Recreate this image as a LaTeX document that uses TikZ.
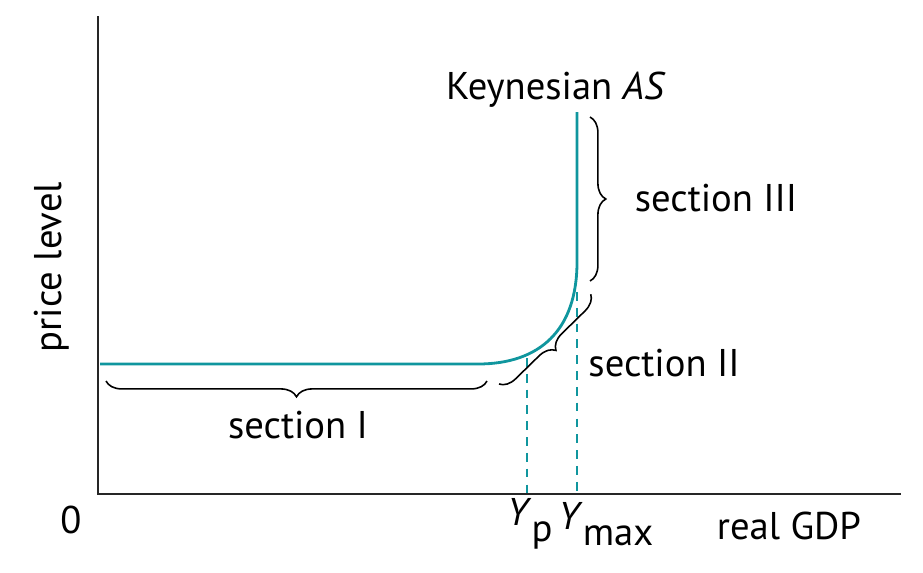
\documentclass[tikz,border=0pt]{standalone}
\usepackage{fontspec}
\setmainfont{PT Sans}
\usetikzlibrary{decorations.pathreplacing}
\definecolor{asteal}{RGB}{16,150,158}
\newcommand{\sub}[1]{\raisebox{-0.4em}{#1}}
\begin{document}
\begin{tikzpicture}
[x=0.02cm,y=-0.02cm,font=\fontsize{22}{26}\selectfont,
every node/.style={inner sep=0pt},
axis/.style={line width=1.4pt,black!85},
curve/.style={line width=1.6pt,asteal},
guide/.style={line width=0.9pt,asteal,dash pattern=on 5pt off 4pt},
bracestyle/.style={line width=0.9pt,decorate,decoration={brace,amplitude=9pt}}]
\useasboundingbox (0,0) rectangle (923,572);
% axes
\coordinate (o) at (98,494);
\coordinate (ytop) at (98,16);
\coordinate (xend) at (901,494);
\draw[axis] (ytop) -- (o) -- (xend);
% guides
\coordinate (yp) at (527,358);
\coordinate (ypb) at (527,494);
\coordinate (ym) at (577,292);
\coordinate (ymb) at (577,494);
\draw[guide] (yp) -- (ypb);
\draw[guide] (ym) -- (ymb);
% Keynesian AS curve
\coordinate (as0) at (100,364);
\coordinate (as1) at (478,364);
\coordinate (as2) at (577,262);
\coordinate (as3) at (577,112);
\draw[curve] (as0) -- (as1) .. controls (540,364) and (577,330) .. (as2) -- (as3);
% braces
\coordinate (b1a) at (106,381);
\coordinate (b1b) at (487,381);
\coordinate (b2a) at (499,384);
\coordinate (b2b) at (591,294);
\coordinate (b3a) at (590,117);
\coordinate (b3b) at (590,281);
\draw[bracestyle,decoration={mirror}] (b1a) -- (b1b);
\draw[bracestyle,decoration={mirror}] (b2a) -- (b2b);
\draw[bracestyle] (b3a) -- (b3b);
% labels
\node (secI) at (298,425) {section I};
\node (secII) at (664,363) {section II};
\node (secIII) at (716,198) {section III};
\node (title) at (556,90) {Keynesian \textit{AS}};
\node[rotate=90] (ylab) at (52,267) {price level};
\node (zero) at (71,520) {0};
\node (ypl) at (530,524) {\textit{Y}\sub{p}};
\node (yml) at (606,524) {\textit{Y}\sub{max}};
\node (xlab) at (789,526) {real GDP};
\end{tikzpicture}
\end{document}
